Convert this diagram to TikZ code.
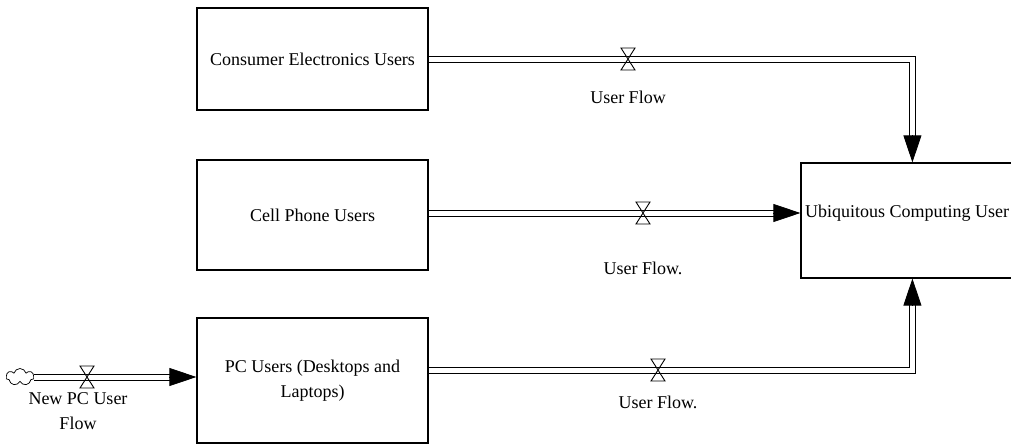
\documentclass[tikz,border=0pt]{standalone}
\usepackage{fontspec}
\setmainfont{Liberation Serif}
\usetikzlibrary{arrows.meta,calc,shapes.symbols}

\tikzset{
  stock/.style={draw, line width=1.2pt, rectangle, inner sep=0pt, align=center},
  pipeline/.style={draw, line width=0.8pt, line join=miter},
  flowhead/.style={line width=0.8pt, -{Triangle[length=27pt,width=18pt]}},
  lbl/.style={inner sep=0pt, align=center},
  valve/.pic={
    \draw[line width=0.9pt, line join=miter] (-7,-11) -- (7,-11) -- (-7,11) -- (7,11) -- cycle;
  }
}

\begin{document}
\begin{tikzpicture}[x=1pt, y=-1pt, every node/.append style={font=\fontsize{18}{25}\selectfont}]
  \useasboundingbox (0,0) rectangle (1011,445);
  \clip (0,0) rectangle (1011,445);
  \fill[white] (0,0) rectangle (1011,445);

  % stocks
  \node[stock, minimum width=231pt, minimum height=102pt] (ce) at (312.5,59) {Consumer Electronics Users};
  \node[stock, minimum width=231pt, minimum height=110pt] (cp) at (312.5,215) {Cell Phone Users};
  \node[stock, minimum width=231pt, minimum height=125pt] (pc) at (312.5,380.5) {PC Users (Desktops and\\Laptops)};
  \node[stock, minimum width=229pt, minimum height=115pt] (ub) at (915.5,220.5) {};
  \node[lbl, anchor=west] (ubt) at (805,213) {Ubiquitous Computing User};

  % source cloud
  \node[cloud, draw, cloud puffs=7, aspect=1.6, minimum width=28pt, minimum height=17pt,
        inner sep=0pt, line width=0.7pt] (src) at (20,377) {};

  % inflow points on the target stock
  \coordinate (topin) at ($(ub.north west)+(112,0)$);
  \coordinate (botin) at ($(ub.south west)+(112,0)$);
  \coordinate (midin) at (ub.west |- 0,213);
  \coordinate (pcin)  at (pc.west |- src.east);

  % pipes: two parallel lines each, ending where the arrow head begins
  \draw[pipeline] (ce.east |- 0,56) -| ($(topin)+(3,-24)$);
  \draw[pipeline] (ce.east |- 0,62) -| ($(topin)+(-3,-24)$);
  \draw[flowhead] ($(topin)+(0,-27)$) -- (topin);

  \draw[pipeline] (cp.east |- 0,210) -- ($(midin)+(-24,-3)$);
  \draw[pipeline] (cp.east |- 0,216) -- ($(midin)+(-24,3)$);
  \draw[flowhead] ($(midin)+(-27,0)$) -- (midin);

  \draw[pipeline] (pc.east |- 0,373) -| ($(botin)+(3,24)$);
  \draw[pipeline] (pc.east |- 0,367) -| ($(botin)+(-3,24)$);
  \draw[flowhead] ($(botin)+(0,27)$) -- (botin);

  \draw[pipeline] ($(src.east)+(0,-3)$) -- ($(pcin)+(-24,-3)$);
  \draw[pipeline] ($(src.east)+(0,3)$) -- ($(pcin)+(-24,3)$);
  \draw[flowhead] ($(pcin)+(-27,0)$) -- (pcin);

  % valves
  \pic at (628,59) {valve};
  \pic at (643,213) {valve};
  \pic at (658,370) {valve};
  \pic at (87,377) {valve};

  % flow labels
  \node[lbl] (f1) at (628,97) {User Flow};
  \node[lbl] (f2) at (643,268) {User Flow.};
  \node[lbl] (f3) at (658,402) {User Flow.};
  \node[lbl] (f0) at (78,411) {New PC User\\Flow};
\end{tikzpicture}
\end{document}
